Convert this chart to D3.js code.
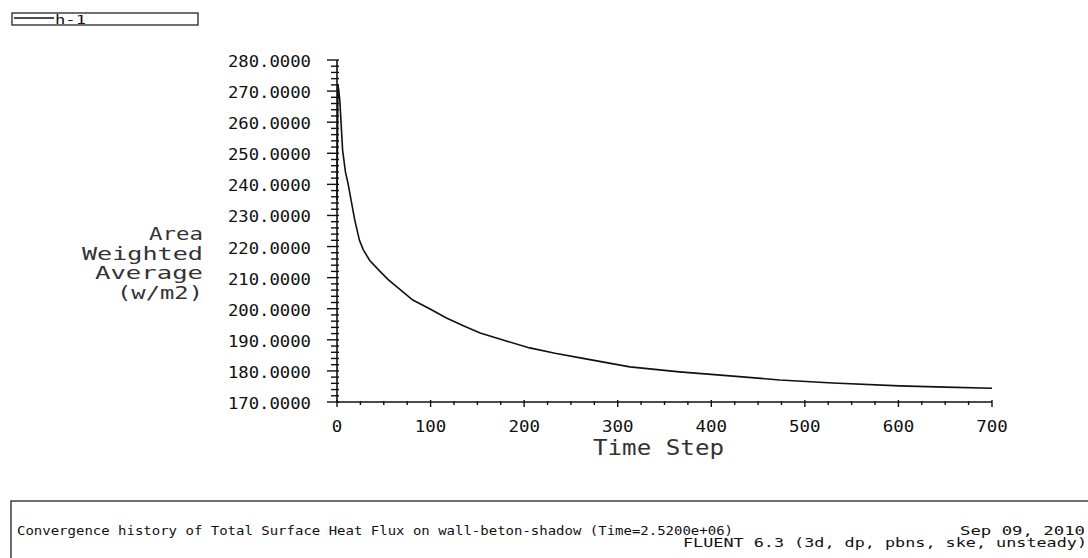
<!DOCTYPE html>
<html>
<head>
<meta charset="utf-8">
<script src="https://cdn.jsdelivr.net/npm/d3@7"></script>
<style>
  body { margin: 0; background: #fff; }
  text { font-family: "DejaVu Sans Mono", "Liberation Mono", monospace; fill: #111; }
</style>
</head>
<body>
<svg id="chart" width="1088" height="558"></svg>
<script>
// time steps and area weighted heat flux
var steps = [0, 1, 2, 3, 6, 9, 12, 15, 19, 24, 28, 35, 46, 55, 64, 81, 99, 117, 135, 153, 180, 206, 233, 260, 313, 366, 420, 473, 530, 601, 650, 700];
var flux = [235, 272, 270, 267, 251, 244, 240, 235, 228.5, 222, 219, 215.5, 212, 209.3, 207, 202.8, 200, 197, 194.5, 192.2, 189.7, 187.4, 185.7, 184.2, 181.3, 179.7, 178.4, 177.1, 176.1, 175.2, 174.8, 174.4];

var yTicks = [170, 180, 190, 200, 210, 220, 230, 240, 250, 260, 270, 280];
var xTicks = [0, 100, 200, 300, 400, 500, 600, 700];
var yTitle = ["Area", "Weighted", "Average", "(w/m2)"];
var yTitleWidths = [54, 121, 108, 86];

var svg = d3.select("#chart");

var x = d3.scaleLinear().domain([0, 700]).range([337, 992]);
var y = d3.scaleLinear().domain([170, 280]).range([402, 60]);

// legend box
svg.append("rect").attr("x", 12).attr("y", 13).attr("width", 186).attr("height", 12)
  .attr("fill", "none").attr("stroke", "#222").attr("stroke-width", 1.3);
svg.append("line").attr("x1", 14).attr("x2", 54).attr("y1", 18).attr("y2", 18)
  .attr("stroke", "#111").attr("stroke-width", 1.3);
svg.append("text").attr("x", 55).attr("y", 24).attr("font-size", 13)
  .attr("textLength", 31).attr("lengthAdjust", "spacingAndGlyphs").text("h-1");

// y axis
var yAxis = svg.append("g");
yAxis.append("line").attr("x1", 337).attr("x2", 337).attr("y1", y(280)).attr("y2", y(170))
  .attr("stroke", "#111").attr("stroke-width", 1.6);
d3.range(170, 280.1, 2).forEach(function(v) {
  var major = v % 10 === 0;
  yAxis.append("line").attr("x1", major ? 327 : 331).attr("x2", 339)
    .attr("y1", y(v)).attr("y2", y(v)).attr("stroke", "#111").attr("stroke-width", 1.4);
});
yAxis.selectAll(".yl").data(yTicks).enter().append("text")
  .attr("x", 311).attr("y", function(d) { return y(d) + 7; })
  .attr("text-anchor", "end").attr("font-size", 15)
  .attr("textLength", 83).attr("lengthAdjust", "spacingAndGlyphs")
  .text(function(d) { return d.toFixed(4); });

// x axis
var xAxis = svg.append("g");
xAxis.append("line").attr("x1", x(0)).attr("x2", x(700)).attr("y1", 402).attr("y2", 402)
  .attr("stroke", "#111").attr("stroke-width", 1.6);
d3.range(0, 700.1, 25).forEach(function(v) {
  var major = v % 100 === 0;
  xAxis.append("line").attr("x1", x(v)).attr("x2", x(v))
    .attr("y1", major ? 400 : 401).attr("y2", major ? 407 : 405)
    .attr("stroke", "#111").attr("stroke-width", 1.4);
});
xAxis.selectAll(".xl").data(xTicks).enter().append("text")
  .attr("x", function(d) { return x(d); }).attr("y", 432)
  .attr("text-anchor", "middle").attr("font-size", 15)
  .attr("textLength", function(d) { return String(d).length * 10.5; })
  .attr("lengthAdjust", "spacingAndGlyphs")
  .text(function(d) { return d; });

// axis titles
svg.append("text").attr("x", 593).attr("y", 455).attr("font-size", 21)
  .style("fill", "#333")
  .attr("textLength", 131).attr("lengthAdjust", "spacingAndGlyphs").text("Time Step");

yTitle.forEach(function(t, i) {
  svg.append("text").attr("x", 203).attr("y", 240 + i * 19.5)
    .attr("text-anchor", "end").attr("font-size", 18).style("fill", "#333")
    .attr("textLength", yTitleWidths[i]).attr("lengthAdjust", "spacingAndGlyphs").text(t);
});

// curve
var line = d3.line().x(function(d, i) { return x(steps[i]); }).y(function(d) { return y(d); });
svg.append("path").datum(flux).attr("d", line)
  .attr("fill", "none").attr("stroke", "#111").attr("stroke-width", 1.6);

// footer box
svg.append("rect").attr("x", 11).attr("y", 501).attr("width", 1100).attr("height", 100)
  .attr("fill", "none").attr("stroke", "#222").attr("stroke-width", 1.3);
svg.append("text").attr("x", 17).attr("y", 535).attr("font-size", 13)
  .attr("textLength", 716).attr("lengthAdjust", "spacingAndGlyphs")
  .text("Convergence history of Total Surface Heat Flux on wall-beton-shadow  (Time=2.5200e+06)");
svg.append("text").attr("x", 960).attr("y", 535).attr("font-size", 13)
  .attr("textLength", 125).attr("lengthAdjust", "spacingAndGlyphs").text("Sep 09, 2010");
svg.append("text").attr("x", 683).attr("y", 547).attr("font-size", 13)
  .attr("textLength", 404).attr("lengthAdjust", "spacingAndGlyphs")
  .text("FLUENT 6.3 (3d, dp, pbns, ske, unsteady)");
</script>
</body>
</html>
